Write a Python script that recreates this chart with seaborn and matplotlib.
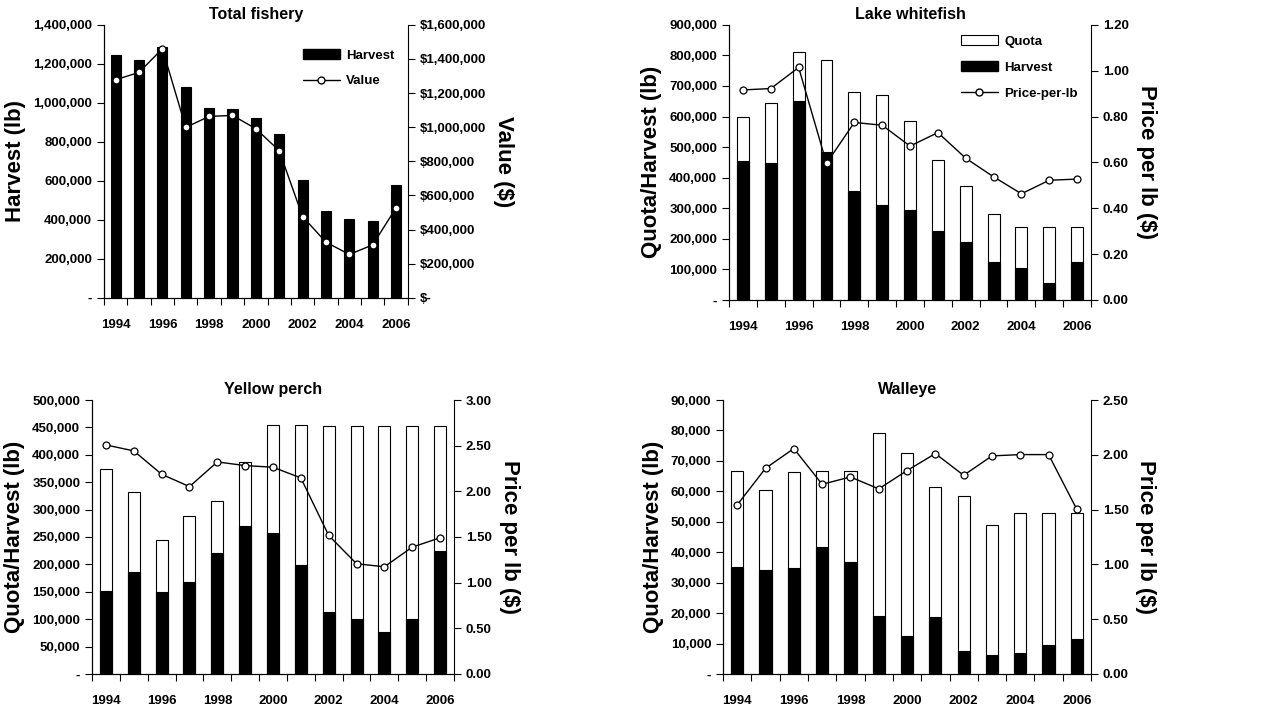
import numpy as np
import seaborn as sns
import matplotlib.pyplot as plt
from matplotlib.patches import Patch
from matplotlib.lines import Line2D
from matplotlib.ticker import FuncFormatter, FixedLocator

years = [str(y) for y in range(1994, 2007)]

# Total fishery
total_harvest = [1245000, 1220000, 1285000, 1080000, 975000, 970000, 920000,
                 842000, 603000, 445000, 403000, 396000, 577000]
total_value = [1278000, 1321000, 1460000, 999000, 1063000, 1069000, 991000,
               862000, 476000, 326000, 254000, 310000, 527000]

# Lake whitefish
lwf_quota = [600000, 643000, 812000, 784000, 680000, 672000, 584000,
             458000, 374000, 280000, 240000, 240000, 240000]
lwf_harvest = [454000, 449000, 651000, 485000, 355000, 311000, 295000,
               227000, 190000, 125000, 104000, 55000, 125000]
lwf_price = [0.916, 0.922, 1.014, 0.596, 0.774, 0.762, 0.671,
             0.730, 0.618, 0.537, 0.463, 0.522, 0.527]

# Yellow perch
yp_quota = [375000, 333000, 245000, 289000, 315000, 386000, 455000,
            455000, 453000, 453000, 453000, 453000, 453000]
yp_harvest = [152000, 186000, 150000, 168000, 221000, 270000, 258000,
              199000, 114000, 101000, 77000, 101000, 224000]
yp_price = [2.508, 2.443, 2.187, 2.052, 2.322, 2.282, 2.264,
            2.147, 1.517, 1.207, 1.174, 1.389, 1.491]

# Walleye
wal_quota = [66700, 60600, 66300, 66700, 66700, 79100, 72700,
             61400, 58600, 48900, 53000, 53000, 53000]
wal_harvest = [35100, 34200, 34700, 41600, 36700, 19100, 12600,
               18600, 7400, 6100, 7000, 9400, 11500]
wal_price = [1.543, 1.877, 2.057, 1.731, 1.798, 1.689, 1.856,
             2.011, 1.813, 1.990, 2.002, 2.002, 1.501]

sns.set_style("ticks")
plt.rcParams['font.family'] = ['Liberation Sans', 'DejaVu Sans']
plt.rcParams['font.weight'] = 'bold'
for key in ('text.color', 'axes.labelcolor', 'xtick.color', 'ytick.color',
            'axes.edgecolor'):
    plt.rcParams[key] = 'black'

fig = plt.figure(figsize=(12.71, 7.09), dpi=100)

W = 0.43
TICK_FS = 9.5


def comma(v, pos=None):
    return "-" if v == 0 else f"{v:,.0f}"


def dollars(v, pos=None):
    return "$-" if v == 0 else f"${v:,.0f}"


def two_dec(v, pos=None):
    return f"{v:.2f}"


def style_x(ax):
    ax.set_xlim(-0.5, 12.5)
    ax.xaxis.set_major_locator(FixedLocator(list(range(0, 13, 2))))
    ax.set_xticklabels(years[::2])
    ax.xaxis.set_minor_locator(FixedLocator(list(np.arange(-0.5, 13, 1))))
    ax.tick_params(axis='x', which='major', length=0, pad=15,
                   labelsize=TICK_FS)
    ax.tick_params(axis='x', which='minor', length=5, width=0.8,
                   direction='out')
    ax.set_xlabel("")


def panel(rect, title, quota, harvest, price, ymax, ystep, pmax, pstep,
          ylabel, plabel, pfmt, legend=None, legend_anchor=(1.0, 1.0)):
    ax = fig.add_axes(rect)
    if quota is not None:
        sns.barplot(x=years, y=quota, color='white', edgecolor='black',
                    linewidth=0.8, width=W, saturation=1, ax=ax)
    sns.barplot(x=years, y=harvest, color='black', edgecolor='black',
                linewidth=0.8, width=W, saturation=1, ax=ax)
    ax.set_ylim(0, ymax)
    ax.set_yticks(np.arange(0, ymax + ystep / 2, ystep))
    ax.yaxis.set_major_formatter(FuncFormatter(comma))
    ax.tick_params(axis='y', length=5, width=0.8, labelsize=TICK_FS)
    ax.set_ylabel(ylabel, fontsize=16, fontweight='bold', labelpad=5)
    style_x(ax)
    ax.set_title(title, fontsize=11.5, fontweight='bold', pad=4)

    ax2 = ax.twinx()
    sns.pointplot(x=years, y=price, color='black', markers='o',
                  linestyles='-', markersize=5, linewidth=1,
                  markerfacecolor='white', markeredgecolor='black',
                  markeredgewidth=0.9, errorbar=None, ax=ax2)
    ax2.set_ylim(0, pmax)
    ax2.set_yticks(np.arange(0, pmax + pstep / 2, pstep))
    ax2.yaxis.set_major_formatter(FuncFormatter(pfmt))
    ax2.tick_params(axis='y', length=5, width=0.8, labelsize=TICK_FS)
    ax2.set_ylabel(plabel, fontsize=16, fontweight='bold', rotation=270,
                   labelpad=20)
    style_x(ax2)
    ax2.tick_params(axis='x', which='both', length=0, labelbottom=False)

    for a in (ax, ax2):
        a.spines['top'].set_visible(False)
        for s in ('left', 'right', 'bottom'):
            a.spines[s].set_linewidth(0.8)
            a.spines[s].set_color('black')
    ax.spines['right'].set_visible(False)

    if legend is not None:
        handles = []
        for name, kind in legend:
            if kind == 'white':
                handles.append(Patch(facecolor='white', edgecolor='black',
                                     linewidth=0.8, label=name))
            elif kind == 'black':
                handles.append(Patch(facecolor='black', edgecolor='black',
                                     label=name))
            else:
                handles.append(Line2D([0], [0], color='black', lw=1,
                                      marker='o', markersize=5,
                                      markerfacecolor='white',
                                      markeredgecolor='black', label=name))
        ax2.legend(handles=handles, loc='upper right', frameon=False,
                   fontsize=9.5, handlelength=2.8, handleheight=0.8,
                   handletextpad=0.5, labelspacing=1.0, borderaxespad=0.6,
                   bbox_to_anchor=legend_anchor)
    return ax, ax2


panel([0.0818, 0.580, 0.239, 0.385], "Total fishery", None, total_harvest,
      total_value, 1400000, 200000, 1600000, 200000,
      "Harvest (lb)", "Value ($)", dollars,
      legend=[("Harvest", 'black'), ("Value", 'line')],
      legend_anchor=(1.0, 0.96))

panel([0.5736, 0.577, 0.2848, 0.388], "Lake whitefish", lwf_quota,
      lwf_harvest, lwf_price, 900000, 100000, 1.2, 0.2,
      "Quota/Harvest (lb)", "Price per lb ($)", two_dec,
      legend=[("Quota", 'white'), ("Harvest", 'black'),
              ("Price-per-lb", 'line')],
      legend_anchor=(1.0, 1.01))

panel([0.0724, 0.0494, 0.2848, 0.3864], "Yellow perch", yp_quota,
      yp_harvest, yp_price, 500000, 50000, 3.0, 0.5,
      "Quota/Harvest (lb)", "Price per lb ($)", two_dec)

panel([0.5689, 0.0494, 0.2895, 0.3864], "Walleye", wal_quota,
      wal_harvest, wal_price, 90000, 10000, 2.5, 0.5,
      "Quota/Harvest (lb)", "Price per lb ($)", two_dec)

fig.savefig("out.png", dpi=100)
